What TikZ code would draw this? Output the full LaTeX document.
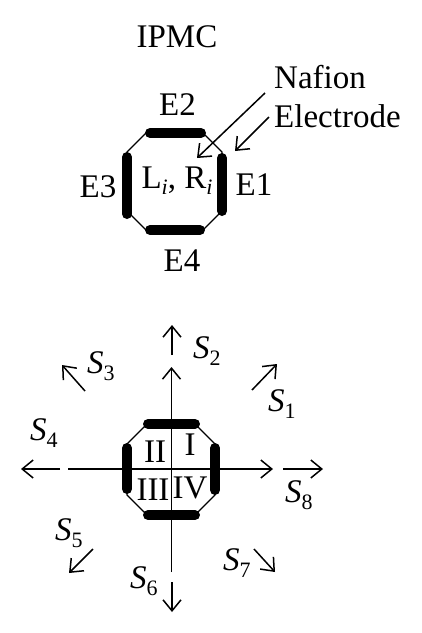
\documentclass[tikz,border=0pt]{standalone}
\usepackage{fontspec}
\setmainfont{Liberation Serif}
\usetikzlibrary{arrows.meta}
\newcommand{\Ssub}[1]{\textit{S}\raisebox{-7pt}{\fontsize{22}{22}\selectfont #1}}
\newcommand{\isub}{\raisebox{-6pt}{\fontsize{22}{22}\selectfont\itshape i}}
\begin{document}
\begin{tikzpicture}[x=1pt,y=-1pt,
  lbl/.style={font=\fontsize{33}{36}\selectfont, inner sep=0pt},
  ax/.style={line width=1.5pt},
  arr/.style={line width=1.5pt, -{Straight Barb[length=11pt,width=18pt,line width=1.5pt]}},
  outline/.style={line width=1.3pt, line join=miter},
  elec/.style={line width=10pt, line cap=round},
]
\useasboundingbox (0,0) rectangle (422,633);

% ---------- top: IPMC ----------
\node[lbl, anchor=base] (ipmc) at (177,47) {IPMC};
\node[lbl, anchor=base] (e2) at (177.5,115) {E2};
\node[lbl, anchor=base] (e3) at (98,197) {E3};
\node[lbl, anchor=base] (e1) at (254,195) {E1};
\node[lbl, anchor=base] (e4) at (182,271) {E4};
\node[lbl, anchor=base] (lr) at (177,188) {L\isub, R\isub};
\node[lbl, anchor=base west] (nafion) at (274,88) {Nafion};
\node[lbl, anchor=base west] (electrode) at (274,127) {Electrode};

\draw[outline] (146,133) -- (203,133) -- (222,152) -- (222,211) -- (203,230)
  -- (146,230) -- (127,211) -- (127,152) -- cycle;
\draw[elec] (150,133) -- (201,133);
\draw[elec] (150,230) -- (200,230);
\draw[elec] (127,157) -- (127,214);
\draw[elec] (222,158) -- (222,211);

\coordinate (nafS) at (265,93);
\coordinate (nafT) at (197,158);
\coordinate (eleS) at (269,117);
\coordinate (eleT) at (235,151);
\draw[arr] (nafS) -- (nafT);
\draw[arr] (eleS) -- (eleT);

% ---------- bottom: directions ----------
\draw[outline] (147,424) -- (195,424) -- (215,444) -- (215,495) -- (195,515)
  -- (147,515) -- (127,495) -- (127,444) -- cycle;
\draw[elec] (148,424) -- (195,424);
\draw[elec] (148,515) -- (195,515);
\draw[elec] (127,448) -- (127,489);
\draw[elec] (215,448) -- (215,490);

\coordinate (vB) at (171.5,572);
\coordinate (vT) at (171.5,367);
\coordinate (hL) at (68,469);
\coordinate (hR) at (273,469);
\draw[arr] (vB) -- (vT);
\draw[arr] (hL) -- (hR);

\node[lbl, anchor=base] (q2) at (155,462) {II};
\node[lbl, anchor=base] (q1) at (190,455) {I};
\node[lbl, anchor=base] (q3) at (153,500) {III};
\node[lbl, anchor=base] (q4) at (190,498) {IV};

\coordinate (s2a) at (172,355); \coordinate (s2b) at (172,325);
\coordinate (s1a) at (252,390); \coordinate (s1b) at (277,364);
\coordinate (s3a) at (85,391);  \coordinate (s3b) at (62,365);
\coordinate (s4a) at (60,469);  \coordinate (s4b) at (21,469);
\coordinate (s8a) at (283,469); \coordinate (s8b) at (323,469);
\coordinate (s5a) at (93,549);  \coordinate (s5b) at (69,573);
\coordinate (s6a) at (172,582); \coordinate (s6b) at (172,612);
\coordinate (s7a) at (254,549); \coordinate (s7b) at (275,572);
\foreach \i in {1,...,8} {\draw[arr] (s\i a) -- (s\i b);}

\node[lbl, anchor=base west] (S1) at (268,411) {\Ssub{1}};
\node[lbl, anchor=base west] (S2) at (193,358) {\Ssub{2}};
\node[lbl, anchor=base west] (S3) at (87,373) {\Ssub{3}};
\node[lbl, anchor=base west] (S4) at (30,440) {\Ssub{4}};
\node[lbl, anchor=base west] (S5) at (55,540) {\Ssub{5}};
\node[lbl, anchor=base west] (S6) at (130,588) {\Ssub{6}};
\node[lbl, anchor=base west] (S7) at (223,570) {\Ssub{7}};
\node[lbl, anchor=base west] (S8) at (285,502) {\Ssub{8}};
\end{tikzpicture}
\end{document}
